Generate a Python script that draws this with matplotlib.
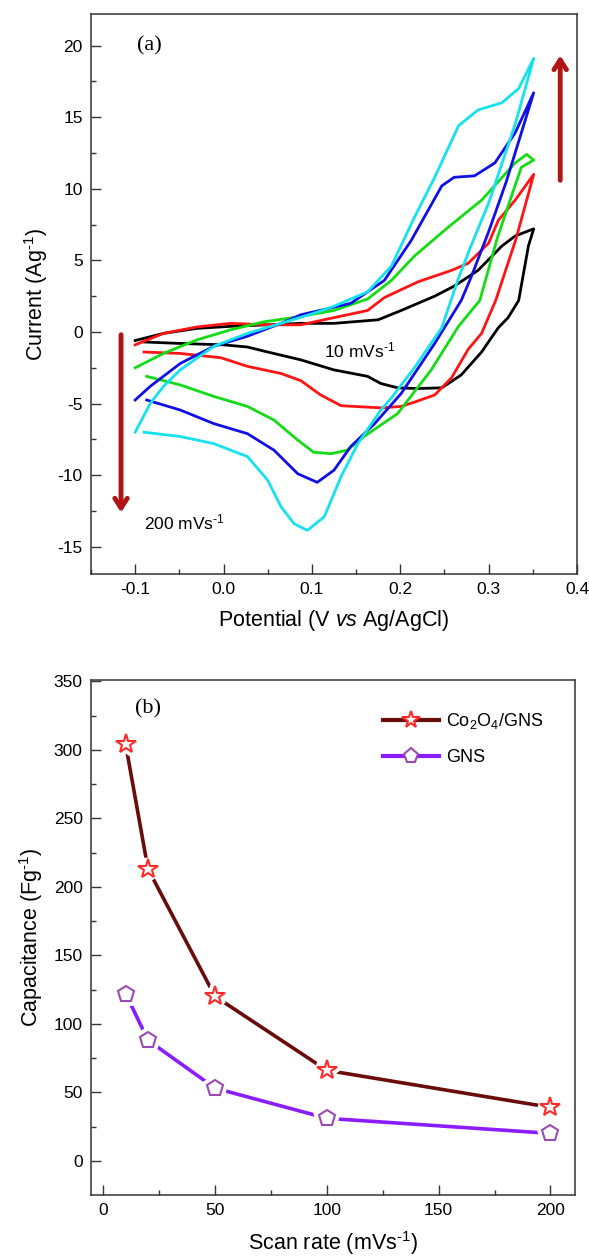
import numpy as np
import matplotlib
matplotlib.use("Agg")
import matplotlib.pyplot as plt
from matplotlib.lines import Line2D

plt.rcParams['font.family'] = ['Liberation Sans', 'DejaVu Sans']
plt.rcParams['mathtext.fontset'] = 'custom'
plt.rcParams['mathtext.rm'] = 'Liberation Sans'
plt.rcParams['mathtext.it'] = 'Liberation Sans:italic'
plt.rcParams['axes.unicode_minus'] = False

# ---- (a) CV loops: potential (V) / current (A/g), forward then reverse sweep
cv10_v = [-0.1, -0.068, -0.03, 0.01, 0.05, 0.0875, 0.125, 0.175, 0.201, 0.239, 0.261, 0.288, 0.315, 0.33, 0.351,
          0.345, 0.334, 0.322, 0.311, 0.292, 0.269, 0.247, 0.22, 0.197, 0.178, 0.163, 0.125, 0.0875, 0.05, 0.027, 0.0, -0.05, -0.09]
cv10_i = [-0.6, -0.1, 0.25, 0.4, 0.5, 0.6, 0.6, 0.85, 1.5, 2.5, 3.2, 4.3, 6.0, 6.7, 7.2,
          6.0, 2.2, 1.0, 0.3, -1.4, -3.0, -3.9, -3.95, -3.9, -3.6, -3.1, -2.65, -1.95, -1.4, -1.05, -0.9, -0.8, -0.7]

cv20_v = [-0.1, -0.068, -0.03, 0.008, 0.05, 0.0875, 0.125, 0.163, 0.182, 0.22, 0.258, 0.277, 0.30, 0.311, 0.33, 0.351,
          0.331, 0.308, 0.292, 0.277, 0.258, 0.239, 0.216, 0.201, 0.178, 0.133, 0.11, 0.102, 0.0875, 0.065, 0.027, -0.003, -0.049, -0.09]
cv20_i = [-0.9, -0.1, 0.35, 0.6, 0.5, 0.5, 1.0, 1.5, 2.4, 3.5, 4.3, 4.8, 6.2, 7.8, 9.2, 11.0,
          6.5, 2.2, -0.1, -1.2, -3.2, -4.4, -4.9, -5.2, -5.3, -5.15, -4.4, -4.05, -3.4, -2.9, -2.4, -1.8, -1.5, -1.4]

cv50_v = [-0.1, -0.068, -0.03, 0.008, 0.045, 0.084, 0.125, 0.163, 0.19, 0.216, 0.254, 0.292, 0.33, 0.343, 0.351,
          0.337, 0.31, 0.29, 0.266, 0.235, 0.197, 0.159, 0.14, 0.122, 0.102, 0.084, 0.057, 0.027, -0.011, -0.049, -0.087]
cv50_i = [-2.5, -1.5, -0.55, 0.15, 0.7, 1.05, 1.5, 2.3, 3.6, 5.3, 7.3, 9.2, 11.8, 12.4, 12.0,
          11.5, 6.6, 2.2, 0.4, -2.65, -5.7, -7.3, -8.25, -8.5, -8.4, -7.55, -6.15, -5.2, -4.5, -3.7, -3.1]

cv100_v = [-0.1, -0.083, -0.049, -0.011, 0.027, 0.065, 0.0875, 0.144, 0.182, 0.2125, 0.247, 0.261, 0.284, 0.307, 0.33, 0.351,
           0.32, 0.30, 0.28, 0.269, 0.239, 0.201, 0.171, 0.144, 0.125, 0.106, 0.084, 0.057, 0.027, -0.011, -0.049, -0.087]
cv100_i = [-4.75, -3.8, -2.2, -1.0, -0.3, 0.6, 1.2, 2.0, 3.6, 6.4, 10.2, 10.8, 10.9, 11.8, 13.9, 16.7,
           10.5, 7.0, 3.8, 2.2, -0.8, -4.3, -6.4, -8.0, -9.65, -10.5, -9.9, -8.25, -7.1, -6.4, -5.45, -4.75]

cv200_v = [-0.1, -0.083, -0.068, -0.049, -0.011, 0.027, 0.065, 0.102, 0.125, 0.163, 0.19, 0.216, 0.239, 0.266, 0.288, 0.315, 0.334, 0.351,
           0.33, 0.30, 0.28, 0.265, 0.247, 0.216, 0.19, 0.178, 0.152, 0.133, 0.114, 0.095, 0.08, 0.065, 0.05, 0.027, -0.011, -0.049, -0.09]
cv200_i = [-7.0, -5.0, -3.8, -2.65, -1.0, -0.1, 0.6, 1.3, 1.8, 2.8, 4.6, 8.0, 10.8, 14.4, 15.5, 16.0, 17.0, 19.1,
           14.5, 9.0, 6.0, 3.6, 0.3, -2.5, -4.6, -5.45, -7.8, -10.1, -12.9, -13.85, -13.4, -12.2, -10.35, -8.7, -7.8, -7.3, -7.0]

# ---- (b) specific capacitance vs scan rate
scan_rate = [10, 20, 50, 100, 200]
cap_co = [304, 213, 120, 66, 39]
cap_gns = [122, 88, 53, 31, 20]

fig = plt.figure(figsize=(5.89, 12.58), dpi=100)
W, H = 589.0, 1258.0
ax1 = fig.add_axes([91 / W, 1 - 574 / H, (577 - 91) / W, (574 - 14) / H])
ax2 = fig.add_axes([91 / W, 1 - 1195 / H, (575 - 91) / W, (1195 - 680) / H])

loops = [(cv10_v, cv10_i, 'black'), (cv20_v, cv20_i, '#ff1414'), (cv50_v, cv50_i, '#14dc14'),
         (cv100_v, cv100_i, '#1010e6'), (cv200_v, cv200_i, '#16e2ee')]
for v, i, c in loops:
    ax1.plot(v, i, color=c, lw=2.0)

sup = '$^{\\text{-1}}$'

ax1.set_xlim(-0.15, 0.40)
ax1.set_ylim(-16.9, 22.2)
ax1.set_xticks([-0.1, 0.0, 0.1, 0.2, 0.3, 0.4])
ax1.set_xticks(np.arange(-0.15, 0.41, 0.05), minor=True)
ax1.set_yticks([-15, -10, -5, 0, 5, 10, 15, 20])
ax1.set_yticks(np.arange(-15, 22, 2.5), minor=True)
ax1.set_xlabel('Potential (V $\\mathit{vs}$ Ag/AgCl)', fontsize=15.5, labelpad=8)
ax1.set_ylabel('Current (Ag' + sup + ')', fontsize=15.5, labelpad=5)
ax1.text(-0.098, 20.0, '(a)', family=['Liberation Serif', 'DejaVu Serif'], fontsize=16, va='center')
ax1.text(0.114, -1.3, '10 mVs' + sup, fontsize=12.5, va='center')
ax1.text(-0.0905, -13.3, '200 mVs' + sup, fontsize=12.5, va='center')

arrow_c = '#b01414'
ax1.annotate('', xy=(-0.116, -12.8), xytext=(-0.116, 0.0),
             arrowprops=dict(arrowstyle='->,head_length=0.7,head_width=0.45', color=arrow_c, lw=3.5))
ax1.annotate('', xy=(0.381, 19.5), xytext=(0.381, 10.4),
             arrowprops=dict(arrowstyle='->,head_length=0.7,head_width=0.45', color=arrow_c, lw=3.5))

# ---- panel (b)
co_line, co_mark = '#6a0c0c', '#ff2a2a'
gns_line, gns_mark = '#8a1cff', '#9a4ab4'
ax2.plot(scan_rate, cap_co, color=co_line, lw=2.6, zorder=2)
ax2.plot(scan_rate, cap_gns, color=gns_line, lw=2.6, zorder=2)
ax2.plot(scan_rate, cap_co, ls='none', marker='*', ms=15, mfc='white', mec='white', mew=7, zorder=3)
ax2.plot(scan_rate, cap_gns, ls='none', marker='p', ms=12, mfc='white', mec='white', mew=7, zorder=3)
ax2.plot(scan_rate, cap_co, ls='none', marker='*', ms=15, mfc='white', mec=co_mark, mew=1.5, zorder=4)
ax2.plot(scan_rate, cap_gns, ls='none', marker='p', ms=12, mfc='white', mec=gns_mark, mew=1.5, zorder=4)

ax2.set_xlim(-5.5, 211)
ax2.set_ylim(-25, 351)
ax2.set_xticks([0, 50, 100, 150, 200])
ax2.set_xticks(np.arange(0, 201, 25), minor=True)
ax2.set_yticks(np.arange(0, 351, 50))
ax2.set_yticks(np.arange(0, 351, 25), minor=True)
ax2.set_xlabel('Scan rate (mVs' + sup + ')', fontsize=15.5, labelpad=8)
ax2.set_ylabel('Capacitance (Fg' + sup + ')', fontsize=15.5, labelpad=6)
ax2.text(14, 330, '(b)', family=['Liberation Serif', 'DejaVu Serif'], fontsize=16, va='center')

handles = [Line2D([], [], color=co_line, lw=3, marker='*', ms=13, mfc='white', mec=co_mark, mew=1.5),
           Line2D([], [], color=gns_line, lw=3, marker='p', ms=11, mfc='white', mec=gns_mark, mew=1.5)]
ax2.legend(handles, ['Co$_2$O$_4$/GNS', 'GNS'], loc='upper left', bbox_to_anchor=(0.585, 0.957),
           frameon=False, fontsize=13, handlelength=3.1, handletextpad=0.4, labelspacing=1.0, borderpad=0)

for ax in (ax1, ax2):
    for s in ax.spines.values():
        s.set_linewidth(1.1)
        s.set_color('#333333')
    ax.tick_params(which='major', direction='in', length=7, width=1.0, labelsize=12.5, color='#333333', pad=6)
    ax.tick_params(which='minor', direction='in', length=3.5, width=1.0, color='#333333')

fig.savefig('out.png', dpi=100)
